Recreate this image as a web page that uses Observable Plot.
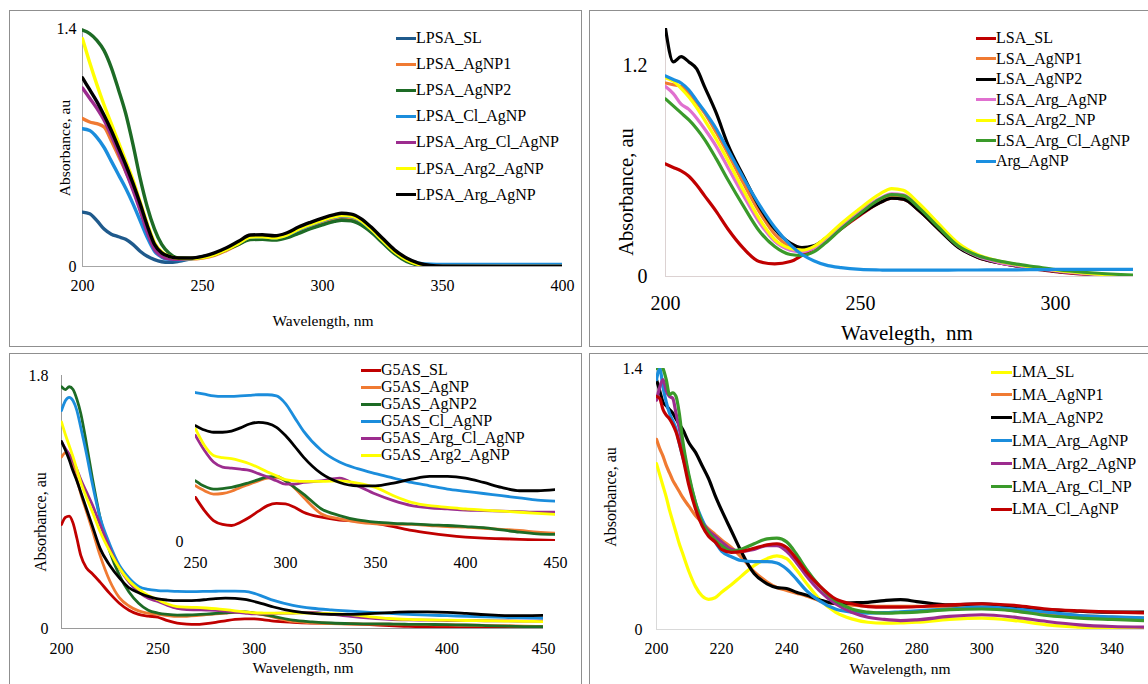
<!DOCTYPE html>
<html>
<head>
<meta charset="utf-8">
<script src="https://cdn.jsdelivr.net/npm/d3@7"></script>
<script src="https://cdn.jsdelivr.net/npm/@observablehq/plot@0.6"></script>
<style>
  html, body { margin: 0; padding: 0; background: #fff; }
  #root { position: relative; width: 1148px; height: 684px; overflow: hidden; background: #fff;
          font-family: "Liberation Serif", "Times New Roman", "DejaVu Serif", serif; color: #000; }
  .box { position: absolute; box-sizing: border-box; border: 1.5px solid #8f8f8f; }
  .txt { position: absolute; white-space: pre; line-height: 1; }
  .leg { position: absolute; display: flex; align-items: center; white-space: pre; line-height: 1; transform: translateY(-50%); }
  .sw { display: inline-block; }
  svg text { font-family: "Liberation Serif", "Times New Roman", "DejaVu Serif", serif; }
</style>
</head>
<body>
<div id="root"></div>
<script>
// ---------------- Panel A (top-left) ----------------
const tlWl = [200,203,206,209,212,215,218,221,224,227,230,233,236,240,245,250,255,260,265,270,275,280,285,290,295,300,305,308,312,316,320,325,330,335,340,345,350,375,400];
const tlNames = ["LPSA_SL","LPSA_AgNP1","LPSA_AgNP2","LPSA_Cl_AgNP","LPSA_Arg_Cl_AgNP","LPSA_Arg2_AgNP","LPSA_Arg_AgNP"];
const tlColors = ["#1f5a8c","#f07a32","#1d6b25","#1b8ddc","#9c2c8e","#ffff00","#000000"];
const LPSA_SL         = [0.32,0.31,0.27,0.22,0.19,0.175,0.16,0.13,0.09,0.06,0.04,0.028,0.024,0.03,0.045,0.058,0.075,0.105,0.135,0.163,0.166,0.16,0.173,0.2,0.227,0.25,0.27,0.277,0.272,0.25,0.21,0.145,0.08,0.035,0.01,0.002,0,0,0];
const LPSA_AgNP1      = [0.87,0.85,0.84,0.82,0.74,0.65,0.56,0.46,0.34,0.22,0.12,0.07,0.05,0.045,0.045,0.05,0.065,0.095,0.13,0.165,0.167,0.161,0.177,0.212,0.24,0.265,0.285,0.293,0.288,0.262,0.215,0.148,0.082,0.036,0.01,0.002,0,0,0];
const LPSA_AgNP2      = [1.39,1.37,1.33,1.27,1.17,1.04,0.9,0.72,0.52,0.35,0.22,0.13,0.08,0.05,0.048,0.055,0.07,0.1,0.13,0.158,0.16,0.155,0.168,0.195,0.222,0.245,0.265,0.272,0.268,0.245,0.205,0.14,0.075,0.03,0.008,0,0,0,0];
const LPSA_Cl_AgNP    = [0.81,0.8,0.76,0.7,0.62,0.54,0.46,0.37,0.27,0.17,0.09,0.055,0.042,0.04,0.045,0.056,0.075,0.104,0.138,0.172,0.174,0.168,0.184,0.217,0.245,0.27,0.29,0.298,0.293,0.268,0.222,0.155,0.09,0.045,0.02,0.013,0.012,0.012,0.012];
const LPSA_Arg_Cl_AgNP= [1.05,0.99,0.93,0.86,0.77,0.67,0.56,0.45,0.33,0.2,0.1,0.06,0.045,0.042,0.046,0.055,0.073,0.103,0.14,0.177,0.179,0.173,0.189,0.224,0.252,0.277,0.297,0.305,0.3,0.274,0.227,0.158,0.09,0.044,0.015,0.004,0.001,0,0];
const LPSA_Arg2_AgNP  = [1.34,1.2,1.07,0.95,0.84,0.73,0.62,0.51,0.38,0.25,0.14,0.085,0.06,0.048,0.047,0.053,0.07,0.1,0.136,0.173,0.175,0.169,0.185,0.22,0.248,0.273,0.293,0.301,0.296,0.27,0.223,0.154,0.087,0.04,0.012,0.003,0,0,0];
const LPSA_Arg_AgNP   = [1.11,1.04,0.97,0.89,0.8,0.7,0.6,0.49,0.37,0.24,0.13,0.08,0.06,0.05,0.05,0.06,0.08,0.11,0.148,0.185,0.187,0.181,0.197,0.232,0.26,0.285,0.305,0.313,0.308,0.282,0.235,0.166,0.098,0.05,0.02,0.006,0.002,0,0];
const tlValues = [LPSA_SL, LPSA_AgNP1, LPSA_AgNP2, LPSA_Cl_AgNP, LPSA_Arg_Cl_AgNP, LPSA_Arg2_AgNP, LPSA_Arg_AgNP];
const tlXTicks = [200,250,300,350,400];
const tlYTicks = [0,1.4];

// ---------------- Panel B (top-right) ----------------
const trWl = [200,202,204,206,208,210,213,216,220,224,228,232,235,238,241,245,250,255,258,261,265,270,275,280,285,290,295,300,310,320];
const trNames = ["LSA_SL","LSA_AgNP1","LSA_AgNP2","LSA_Arg_AgNP","LSA_Arg2_NP","LSA_Arg_Cl_AgNP","Arg_AgNP"];
const trColors = ["#c00000","#f07a32","#000000","#e070cf","#ffff00","#3a9a2a","#1a8fe0"];
const LSA_SL          = [0.64,0.62,0.6,0.57,0.52,0.46,0.37,0.27,0.16,0.085,0.072,0.085,0.12,0.16,0.2,0.27,0.35,0.42,0.445,0.44,0.375,0.27,0.17,0.11,0.08,0.06,0.042,0.028,0.01,0];
const LSA_AgNP1       = [1.1,1.09,1.08,1.04,0.99,0.93,0.82,0.7,0.53,0.37,0.24,0.17,0.155,0.165,0.2,0.275,0.36,0.435,0.46,0.455,0.39,0.28,0.175,0.115,0.083,0.062,0.046,0.032,0.012,0];
const LSA_AgNP2       = [1.41,1.22,1.25,1.22,1.18,1.08,0.93,0.75,0.57,0.4,0.27,0.19,0.165,0.175,0.215,0.28,0.356,0.42,0.445,0.44,0.375,0.27,0.167,0.11,0.08,0.06,0.045,0.03,0.012,0];
const LSA_Arg_AgNP    = [1.08,1.04,0.98,0.95,0.9,0.84,0.74,0.62,0.46,0.31,0.2,0.15,0.14,0.16,0.2,0.28,0.37,0.445,0.47,0.465,0.395,0.285,0.175,0.115,0.082,0.062,0.046,0.032,0.012,0];
const LSA_Arg2_NP     = [1.13,1.11,1.07,1.02,0.96,0.89,0.78,0.66,0.49,0.33,0.21,0.16,0.15,0.17,0.22,0.3,0.39,0.47,0.5,0.49,0.415,0.3,0.19,0.125,0.09,0.068,0.05,0.036,0.015,0];
const LSA_Arg_Cl_AgNP = [1.01,0.97,0.93,0.89,0.84,0.78,0.67,0.55,0.4,0.26,0.17,0.125,0.12,0.14,0.19,0.27,0.36,0.44,0.465,0.46,0.39,0.28,0.175,0.12,0.09,0.07,0.055,0.04,0.02,0.008];
const Arg_AgNP        = [1.14,1.12,1.1,1.06,1.0,0.94,0.84,0.72,0.56,0.41,0.28,0.18,0.125,0.09,0.066,0.05,0.04,0.037,0.036,0.036,0.036,0.036,0.037,0.037,0.038,0.038,0.039,0.04,0.04,0.04];
const trValues = [LSA_SL, LSA_AgNP1, LSA_AgNP2, LSA_Arg_AgNP, LSA_Arg2_NP, LSA_Arg_Cl_AgNP, Arg_AgNP];
const trXTicks = [200,250,300];
const trYTicks = [0,1.2];

// ---------------- Panel C (bottom-left, with inset) ----------------
const blWl = [200,202,204,206,208,210,213,216,220,225,230,235,240,245,250,255,260,265,270,275,280,285,290,295,300,305,310,320,330,340,350,360,370,380,390,400,410,420,430,440,450];
const blNames = ["G5AS_SL","G5AS_AgNP","G5AS_AgNP2","G5AS_Cl_AgNP","G5AS_Arg_Cl_AgNP","G5AS_Arg2_AgNP","G5AS_Arg_AgNP"];
const blLegendCount = 6;
const blColors = ["#c00000","#f07a32","#1d6b25","#1b8ddc","#9c2c8e","#ffff00","#000000"];
const G5AS_SL          = [0.74,0.79,0.8,0.75,0.64,0.52,0.43,0.39,0.33,0.25,0.18,0.13,0.1,0.088,0.08,0.056,0.038,0.031,0.029,0.035,0.044,0.055,0.065,0.069,0.068,0.062,0.053,0.044,0.039,0.037,0.033,0.027,0.02,0.015,0.011,0.008,0.006,0.005,0.004,0.003,0.002];
const G5AS_AgNP        = [1.22,1.25,1.22,1.15,1.06,0.96,0.83,0.7,0.52,0.34,0.22,0.16,0.125,0.108,0.101,0.092,0.086,0.087,0.091,0.098,0.104,0.11,0.115,0.116,0.11,0.097,0.08,0.05,0.041,0.035,0.032,0.031,0.031,0.029,0.027,0.026,0.024,0.022,0.02,0.017,0.015];
const G5AS_AgNP2       = [1.72,1.7,1.72,1.7,1.63,1.53,1.31,1.07,0.79,0.55,0.38,0.26,0.18,0.13,0.11,0.1,0.095,0.096,0.098,0.102,0.107,0.112,0.117,0.118,0.11,0.098,0.086,0.059,0.047,0.039,0.035,0.033,0.032,0.03,0.029,0.027,0.025,0.021,0.017,0.014,0.013];
const G5AS_Cl_AgNP     = [1.55,1.62,1.645,1.62,1.55,1.43,1.24,1.03,0.79,0.6,0.45,0.36,0.3,0.278,0.27,0.267,0.264,0.263,0.263,0.264,0.265,0.266,0.266,0.264,0.25,0.225,0.2,0.165,0.144,0.132,0.123,0.115,0.107,0.101,0.095,0.091,0.087,0.083,0.079,0.075,0.073];
const G5AS_Arg_Cl_AgNP = [1.33,1.28,1.24,1.19,1.13,1.06,0.97,0.88,0.74,0.57,0.43,0.33,0.26,0.215,0.192,0.165,0.144,0.135,0.133,0.131,0.129,0.123,0.117,0.11,0.104,0.104,0.107,0.11,0.115,0.101,0.086,0.074,0.065,0.061,0.059,0.057,0.056,0.055,0.054,0.053,0.053];
const G5AS_Arg2_AgNP   = [1.47,1.38,1.3,1.22,1.13,1.04,0.93,0.83,0.69,0.55,0.43,0.34,0.28,0.235,0.204,0.174,0.156,0.152,0.15,0.146,0.141,0.134,0.126,0.119,0.112,0.11,0.109,0.109,0.11,0.106,0.098,0.083,0.071,0.065,0.062,0.059,0.057,0.055,0.053,0.051,0.049];
const G5AS_Arg_AgNP    = [1.33,1.27,1.2,1.12,1.05,0.97,0.85,0.73,0.57,0.45,0.36,0.29,0.255,0.228,0.21,0.202,0.198,0.198,0.2,0.206,0.213,0.216,0.214,0.207,0.192,0.173,0.153,0.123,0.107,0.101,0.101,0.106,0.113,0.118,0.118,0.115,0.107,0.098,0.092,0.092,0.094];
const blValues = [G5AS_SL, G5AS_AgNP, G5AS_AgNP2, G5AS_Cl_AgNP, G5AS_Arg_Cl_AgNP, G5AS_Arg2_AgNP, G5AS_Arg_AgNP];
const blXTicks = [200,250,300,350,400,450];
const blYTicks = [0,1.8];
const insetXTicks = [250,300,350,400,450];
const insetYTicks = [0];

// ---------------- Panel D (bottom-right) ----------------
const brWl = [200,201,202,203,204,205,206,207,208,210,212,214,216,218,220,223,226,230,234,237,240,243,246,250,255,260,265,270,275,280,290,300,310,320,330,340,350];
const brNames = ["LMA_SL","LMA_AgNP1","LMA_AgNP2","LMA_Arg_AgNP","LMA_Arg2_AgNP","LMA_Arg_Cl_NP","LMA_Cl_AgNP"];
const brColors = ["#ffff00","#f07a32","#000000","#1b8ddc","#9c2c8e","#3a9a2a","#c00000"];
const LMA_SL        = [0.89,0.83,0.77,0.71,0.64,0.58,0.52,0.46,0.41,0.31,0.23,0.18,0.162,0.17,0.2,0.24,0.285,0.343,0.38,0.395,0.38,0.32,0.25,0.164,0.093,0.057,0.039,0.034,0.035,0.039,0.054,0.061,0.048,0.025,0.0125,0.004,0];
const LMA_AgNP1     = [1.02,0.97,0.93,0.88,0.84,0.8,0.77,0.74,0.71,0.66,0.61,0.575,0.54,0.51,0.48,0.44,0.39,0.31,0.255,0.225,0.21,0.195,0.18,0.155,0.138,0.13,0.125,0.124,0.124,0.124,0.12,0.12,0.1,0.084,0.075,0.066,0.061];
const LMA_AgNP2     = [1.34,1.28,1.22,1.2,1.18,1.16,1.13,1.1,1.075,1.0,0.95,0.88,0.81,0.72,0.64,0.53,0.42,0.3,0.245,0.225,0.22,0.2,0.185,0.16,0.14,0.143,0.146,0.155,0.16,0.15,0.132,0.138,0.12,0.105,0.098,0.093,0.093];
const LMA_Arg_AgNP  = [1.34,1.4,1.3,1.22,1.16,1.12,1.075,1.0,0.93,0.81,0.68,0.59,0.52,0.47,0.42,0.39,0.37,0.364,0.364,0.357,0.325,0.27,0.21,0.155,0.11,0.093,0.088,0.09,0.095,0.1,0.11,0.12,0.11,0.093,0.075,0.068,0.063];
const LMA_Arg2_AgNP = [1.23,1.3,1.34,1.28,1.25,1.24,1.16,1.08,0.99,0.81,0.66,0.575,0.53,0.5,0.47,0.43,0.42,0.43,0.45,0.45,0.42,0.36,0.29,0.21,0.138,0.093,0.066,0.054,0.048,0.052,0.07,0.079,0.066,0.043,0.025,0.016,0.0125];
const LMA_Arg_Cl_NP = [1.4,1.42,1.4,1.34,1.26,1.27,1.25,1.16,1.02,0.825,0.68,0.575,0.52,0.48,0.45,0.42,0.43,0.46,0.486,0.49,0.47,0.405,0.325,0.236,0.155,0.11,0.093,0.0875,0.09,0.093,0.107,0.11,0.1,0.075,0.061,0.054,0.048];
const LMA_Cl_AgNP   = [1.25,1.24,1.18,1.15,1.13,1.1,1.06,1.0,0.93,0.77,0.646,0.557,0.5,0.47,0.43,0.414,0.418,0.436,0.454,0.46,0.44,0.38,0.31,0.236,0.164,0.138,0.123,0.12,0.12,0.122,0.132,0.138,0.129,0.11,0.1,0.093,0.089];
const brValues = [LMA_SL, LMA_AgNP1, LMA_AgNP2, LMA_Arg_AgNP, LMA_Arg2_AgNP, LMA_Arg_Cl_NP, LMA_Cl_AgNP];
const brXTicks = [200,220,240,260,280,300,320,340];
const brYTicks = [0,1.4];

// ---------------- helpers ----------------
const FONT = '"Liberation Serif", "Times New Roman", "DejaVu Serif", serif';
const root = document.getElementById("root");

function rowsOf(wl, names, values, minX) {
  const rows = [];
  names.forEach((n, i) => values[i].forEach((v, j) => {
    if (minX == null || wl[j] >= minX) rows.push({w: wl[j], a: v, s: n});
  }));
  return rows;
}

function box(left, top, width, height) {
  const d = document.createElement("div");
  d.className = "box";
  Object.assign(d.style, {left: left + "px", top: top + "px", width: width + "px", height: height + "px"});
  root.appendChild(d);
}

function text(str, cx, cy, size, rotate) {
  const d = document.createElement("div");
  d.className = "txt";
  d.textContent = str;
  Object.assign(d.style, {left: cx + "px", top: cy + "px", fontSize: size + "px", fontFamily: FONT,
    transform: "translate(-50%,-50%)" + (rotate ? " rotate(-90deg)" : "")});
  root.appendChild(d);
}

function legend(names, colors, x, y0, dy, swW, size) {
  names.forEach((n, i) => {
    const r = document.createElement("div");
    r.className = "leg";
    Object.assign(r.style, {left: x + "px", top: (y0 + i * dy) + "px", fontSize: size + "px", fontFamily: FONT});
    const s = document.createElement("span");
    s.className = "sw";
    Object.assign(s.style, {width: swW + "px", height: "3px", background: colors[i]});
    const t = document.createElement("span");
    t.textContent = n;
    r.appendChild(s); r.appendChild(t);
    root.appendChild(r);
  });
}

function chart(o) {
  const svg = Plot.plot({
    width: o.width, height: o.height,
    marginLeft: o.mL, marginRight: o.mR, marginTop: o.mT, marginBottom: o.mB,
    style: {fontFamily: FONT, fontSize: o.fs + "px", color: "#000", background: "transparent", overflow: "visible"},
    x: {domain: o.xDomain},
    y: {domain: o.yDomain},
    color: {domain: o.names, range: o.colors},
    marks: [
      o.axisLine ? Plot.ruleY([o.yDomain[0]], {stroke: o.axisLine, strokeWidth: 1}) : null,
      o.axisLine ? Plot.ruleX([o.xDomain[0]], {stroke: o.axisLine, strokeWidth: 1}) : null,
      Plot.axisX({ticks: o.xTicks, tickSize: 0, tickPadding: o.padX, tickFormat: d => String(d), label: null, fill: "#000"}),
      Plot.axisY({ticks: o.yTicks, tickSize: 0, tickPadding: o.padY, tickFormat: d => String(d), label: null, fill: "#000"}),
      Plot.line(o.data, {x: "w", y: "a", z: "s", stroke: "s", strokeWidth: o.sw, curve: "monotone-x", clip: true})
    ]
  });
  Object.assign(svg.style, {position: "absolute", left: o.left + "px", top: o.top + "px"});
  root.appendChild(svg);
}

// ---------------- panel frames ----------------
box(9, 10, 573, 337);
box(589, 10, 580, 337);
box(9, 353, 573, 345);
box(589, 353, 580, 345);

// ---------------- A ----------------
chart({left: 9, top: 10, width: 572, height: 337, mL: 73, mR: 19, mT: 18, mB: 81,
  xDomain: [200, 400], yDomain: [0, 1.4], xTicks: tlXTicks, yTicks: tlYTicks,
  names: tlNames, colors: tlColors, data: rowsOf(tlWl, tlNames, tlValues),
  fs: 16, padX: 13, padY: 6, sw: 3.4, axisLine: "#a6a6a6"});
text("Absorbance, au", 65, 148, 15.5, true);
text("Wavelength, nm", 323, 321, 15.5);
legend(tlNames, tlColors, 396, 38, 26.1, 20, 16);

// ---------------- B ----------------
chart({left: 589, top: 10, width: 559, height: 337, mL: 76, mR: 15, mT: 18, mB: 71,
  xDomain: [200, 320], yDomain: [0, 1.41], xTicks: trXTicks, yTicks: trYTicks,
  names: trNames, colors: trColors, data: rowsOf(trWl, trNames, trValues),
  fs: 20, padX: 19, padY: 18, sw: 3.2, axisLine: "#dcd2d2"});
text("Absorbance, au", 626, 192, 20.5, true);
text("Wavelegth,  nm", 907, 333, 21);
legend(trNames, trColors, 976, 38, 20.5, 20, 16);

// ---------------- C ----------------
chart({left: 9, top: 353, width: 572, height: 331, mL: 52, mR: 38, mT: 22, mB: 56,
  xDomain: [200, 450], yDomain: [0, 1.8], xTicks: blXTicks, yTicks: blYTicks,
  names: blNames, colors: blColors, data: rowsOf(blWl, blNames, blValues),
  fs: 16, padX: 14, padY: 13, sw: 2.8, axisLine: "#9a9a9a"});
chart({left: 160, top: 375, width: 410, height: 200, mL: 35, mR: 15, mT: 6, mB: 34,
  xDomain: [250, 450], yDomain: [0, 0.29], xTicks: insetXTicks, yTicks: insetYTicks,
  names: blNames, colors: blColors, data: rowsOf(blWl, blNames, blValues, 250),
  fs: 16, padX: 15, padY: 12, sw: 2.8, axisLine: null});
text("Absorbance, au", 41, 522, 16, true);
text("Wavelength, nm", 303, 668, 15.5);
legend(blNames.slice(0, blLegendCount), blColors, 361, 370, 17, 20, 16);

// ---------------- D ----------------
chart({left: 589, top: 353, width: 559, height: 331, mL: 67, mR: 4, mT: 15, mB: 55,
  xDomain: [200, 350], yDomain: [0, 1.4], xTicks: brXTicks, yTicks: brYTicks,
  names: brNames, colors: brColors, data: rowsOf(brWl, brNames, brValues),
  fs: 16, padX: 13, padY: 14, sw: 3.2, axisLine: "#d9d9d9"});
text("Absorbance, au", 611, 497, 16, true);
text("Wavelength, nm", 900, 669, 15.5);
legend(brNames, brColors, 991, 372, 22.9, 21, 16);
</script>
</body>
</html>
